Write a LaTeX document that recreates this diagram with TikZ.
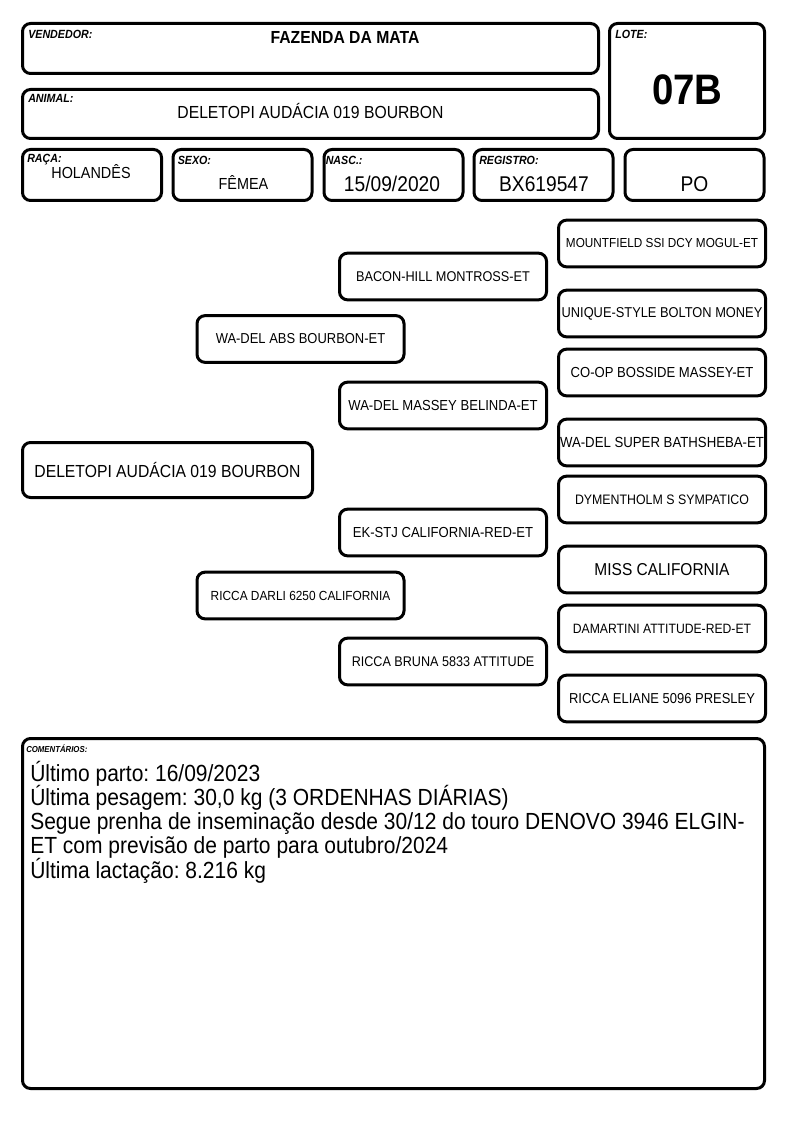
\documentclass[tikz,border=0pt]{standalone}
\usepackage{fontspec}
\setmainfont{Liberation Sans}[FakeStretch=0.9]
\newcommand{\fsize}[1]{\fontsize{#1pt}{#1pt}\selectfont}
\frenchspacing

\begin{document}
\begin{tikzpicture}[
	x=0.75pt, y=-0.75pt,
	box/.style={draw, line width=2.25pt, rounded corners=6pt, inner sep=0pt},
	field/.style={box, minimum width=104.25pt, minimum height=38.25pt},
	ped/.style={box, minimum width=155.25pt, minimum height=35pt, align=center},
	lbl/.style={anchor=base west, inner sep=0pt, font=\bfseries\itshape\fsize{8.9}},
	val/.style={anchor=base, inner sep=0pt}
	]
	\path[use as bounding box, fill=white] (0,0) rectangle (794,1123);
	
	% header
	\node[box, minimum width=432pt, minimum height=37.5pt] (vend) at (310.5,48.5) {};
	\node[box, minimum width=432pt, minimum height=36.75pt] (anim) at (310.5,114) {};
	\node[box, minimum width=116.25pt, minimum height=86.25pt] (lote) at (687,81) {};
	\node[field] (raca) at (92,175) {};
	\node[field] (sexo) at (242.5,175) {};
	\node[field] (nasc) at (393.5,175) {};
	\node[field] (reg) at (543.5,175) {};
	\node[field] (cat) at (694.5,175) {};
	
	\node[lbl] (vendlbl) at (28,39) {VENDEDOR:};
	\node[lbl] (animlbl) at (28,103) {ANIMAL:};
	\node[lbl] (lotelbl) at (615,39) {LOTE:};
	\node[lbl] (racalbl) at (27,163) {RAÇA:};
	\node[lbl] (sexolbl) at (177.5,165) {SEXO:};
	\node[lbl] (nasclbl) at (325.5,165) {NASC.:};
	\node[lbl] (reglbl) at (479,165) {REGISTRO:};
	
	\node[val, font=\bfseries\fsize{13.1}] (vendval) at (345,43.3) {FAZENDA DA MATA};
	\node[val, font=\fsize{13.1}] (animval) at (310.5,119) {DELETOPI AUDÁCIA 019 BOURBON};
	\node[val, font=\bfseries\fsize{32}] (loteval) at (687.5,105) {07B};
	\node[val, font=\fsize{12}] (racaval) at (91,178.3) {HOLANDÊS};
	\node[val, font=\fsize{12}] (sexoval) at (243.5,189.3) {FÊMEA};
	\node[val, font=\fsize{16}] (nascval) at (392,191.7) {15/09/2020};
	\node[val, font=\fsize{16}] (regval) at (544,191.7) {BX619547};
	\node[val, font=\fsize{16}] (catval) at (694.5,191.7) {PO};
	
	% pedigree
	\node[box, minimum width=217.5pt, minimum height=41.25pt, font=\fsize{13.1}] (subj) at (167.5,470) {DELETOPI AUDÁCIA 019 BOURBON};
	
	\node[ped, font=\fsize{10.8}] (s) at (300.5,339) {WA-DEL ABS BOURBON-ET};
	\node[ped, font=\fsize{9.9}] (d) at (300.5,595.5) {RICCA DARLI 6250 CALIFORNIA};
	
	\node[ped, font=\fsize{10.6}] (ss) at (443,276.5) {BACON-HILL MONTROSS-ET};
	\node[ped, font=\fsize{10.9}] (sd) at (443,405.5) {WA-DEL MASSEY BELINDA-ET};
	\node[ped, font=\fsize{10.9}] (ds) at (443,532.5) {EK-STJ CALIFORNIA-RED-ET};
	\node[ped, font=\fsize{10.5}] (dd) at (443,661.5) {RICCA BRUNA 5833 ATTITUDE};
	
	\node[ped, font=\fsize{9.8}] (sss) at (662,243.5) {MOUNTFIELD SSI DCY MOGUL-ET};
	\node[ped, font=\fsize{10.7}] (ssd) at (662,313.5) {UNIQUE-STYLE BOLTON MONEY};
	\node[ped, font=\fsize{10.9}] (sds) at (662,372.5) {CO-OP BOSSIDE MASSEY-ET};
	\node[ped, font=\fsize{11}] (sdd) at (662,442.5) {WA-DEL SUPER BATHSHEBA-ET};
	\node[ped, font=\fsize{10.3}] (dss) at (662,499.5) {DYMENTHOLM S SYMPATICO};
	\node[ped, font=\fsize{12.9}] (dsd) at (662,569.5) {MISS CALIFORNIA};
	\node[ped, font=\fsize{10.15}] (dds) at (662,628.5) {DAMARTINI ATTITUDE-RED-ET};
	\node[ped, font=\fsize{10.8}] (ddd) at (662,698.5) {RICCA ELIANE 5096 PRESLEY};
	
	% comments
	\node[box, minimum width=556.5pt, minimum height=262.5pt] (com) at (393.5,913.5) {};
	\node[lbl, font=\bfseries\itshape\fsize{6.5}] (comlbl) at (26,752) {COMENTÁRIOS:};
	\node[val, anchor=base west] (comtxt) at (30,781.3) {\parbox[t]{560pt}{\raggedright\fontsize{17.5pt}{18.15pt}\selectfont\lineskiplimit=-20pt
			Último parto: 16/09/2023\\
			Última pesagem: 30,0 kg (3 ORDENHAS DIÁRIAS)\\
			Segue prenha de inseminação desde 30/12 do touro DENOVO 3946 ELGIN-\\
			ET com previsão de parto para outubro/2024\\
			Última lactação: 8.216 kg}};
\end{tikzpicture}
\end{document}
